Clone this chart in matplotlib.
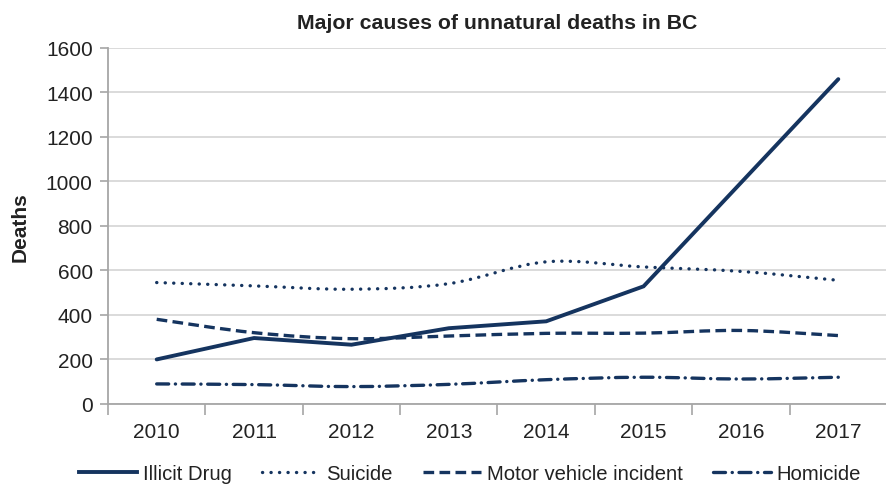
import matplotlib
matplotlib.use('Agg')
import matplotlib.pyplot as plt
from matplotlib.path import Path
from matplotlib.patches import PathPatch
from matplotlib.lines import Line2D
import numpy as np

years = ['2010', '2011', '2012', '2013', '2014', '2015', '2016', '2017']
illicit_drug = [200, 296, 266, 340, 371, 528, 993, 1458]
suicide = [545, 530, 515, 540, 638, 615, 595, 555]
motor_vehicle = [380, 320, 293, 305, 317, 318, 330, 307]
homicide = [90, 87, 78, 88, 109, 120, 112, 120]

navy = '#15345f'
plt.rcParams['font.family'] = ['Liberation Sans', 'DejaVu Sans']

fig = plt.figure(figsize=(8.87, 4.85), dpi=100)
ax = fig.add_axes([108 / 887, 0.165, 779 / 887, 0.735])


def smooth_path(xs, ys):
    # Catmull-Rom style curve through the points, as Excel "smoothed line"
    pts = np.column_stack([xs, ys]).astype(float)
    verts = [pts[0]]
    codes = [Path.MOVETO]
    n = len(pts)
    for i in range(n - 1):
        p0 = pts[max(i - 1, 0)]
        p1 = pts[i]
        p2 = pts[i + 1]
        p3 = pts[min(i + 2, n - 1)]
        c1 = p1 + (p2 - p0) / 6.0
        c2 = p2 - (p3 - p1) / 6.0
        verts += [c1, c2, p2]
        codes += [Path.CURVE4] * 3
    return Path(verts, codes)


x = np.arange(len(years))

ax.plot(x, illicit_drug, color=navy, lw=2.8, solid_capstyle='round',
        solid_joinstyle='miter', zorder=4)

styles = {
    'Suicide': dict(ls=(0, (0.05, 2.5)), capstyle='round'),
    'Motor vehicle incident': dict(ls=(0, (3.2, 1.6)), capstyle='butt'),
    'Homicide': dict(ls=(0, (3.6, 2.0, 0.05, 2.0)), capstyle='round'),
}
for name, vals in [('Suicide', suicide),
                   ('Motor vehicle incident', motor_vehicle),
                   ('Homicide', homicide)]:
    patch = PathPatch(smooth_path(x, vals), fill=False, edgecolor=navy,
                      lw=2.4, linestyle=styles[name]['ls'],
                      capstyle=styles[name]['capstyle'], zorder=3)
    ax.add_patch(patch)

ax.set_xlim(-0.5, 7.449)
ax.set_ylim(0, 1600)
ax.set_yticks(np.arange(0, 1601, 200))
ax.set_xticks(x)
ax.set_xticklabels(years)
ax.set_xticks(np.arange(-0.5, 7.6, 1), minor=True)

ax.grid(axis='y', color='#d4d4d4', lw=1.2, zorder=0)
ax.set_axisbelow(True)
for side in ['top', 'right']:
    ax.spines[side].set_visible(False)
for side in ['left', 'bottom']:
    ax.spines[side].set_color('#a6a6a6')
    ax.spines[side].set_linewidth(1.3)

ax.tick_params(axis='x', which='major', length=0, pad=13, labelsize=15,
               labelcolor='#222222')
ax.tick_params(axis='x', which='minor', length=8, width=1.2, color='#a6a6a6')
ax.tick_params(axis='y', length=6, width=1.2, color='#a6a6a6', pad=5,
               labelsize=15, labelcolor='#222222')

ax.set_title('Major causes of unnatural deaths in BC', fontsize=15.3,
             fontweight='bold', color='#222222', pad=14)
ax.set_ylabel('Deaths', fontsize=15, fontweight='bold', color='#222222')
ax.yaxis.set_label_coords(-0.1005, 0.5)

handles = [
    Line2D([], [], color=navy, lw=2.8),
    Line2D([], [], color=navy, lw=2.4, ls=styles['Suicide']['ls'],
           dash_capstyle='round'),
    Line2D([], [], color=navy, lw=2.4,
           ls=styles['Motor vehicle incident']['ls']),
    Line2D([], [], color=navy, lw=2.4, ls=styles['Homicide']['ls'],
           dash_capstyle='round'),
]
labels = ['Illicit Drug', 'Suicide', 'Motor vehicle incident', 'Homicide']
fig.legend(handles, labels, loc='center', bbox_to_anchor=(0.53, 0.022),
           ncol=4, frameon=False, fontsize=14.6, handlelength=2.85,
           handletextpad=0.3, columnspacing=1.5, labelcolor='#222222')

fig.savefig('out.png', dpi=100)
